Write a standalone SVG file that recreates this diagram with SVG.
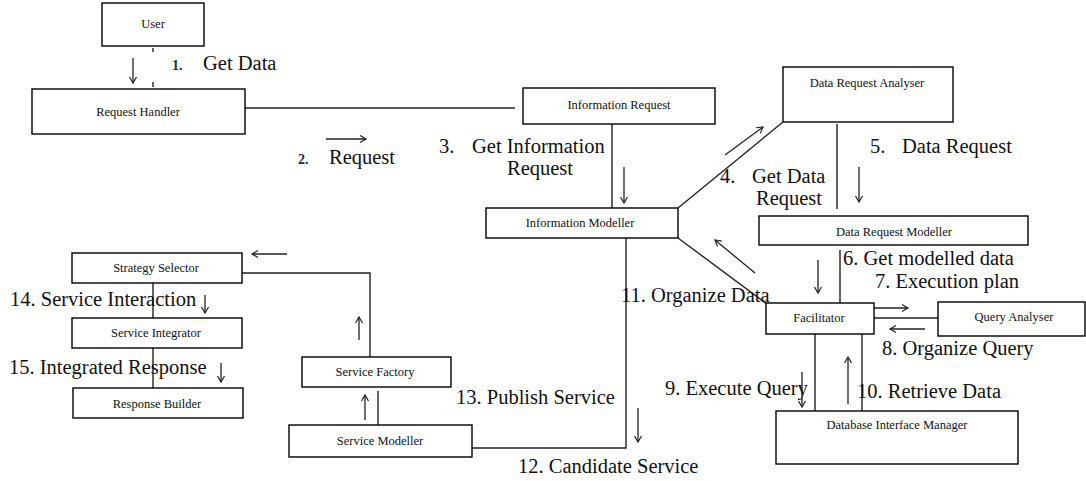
<svg xmlns="http://www.w3.org/2000/svg" width="1086" height="481" viewBox="0 0 1086 481">
<style>
.box{fill:#fff;stroke:#000;stroke-width:1.4}
.nt{font-family:"Liberation Serif","DejaVu Serif",serif;font-size:12.5px;fill:#111;text-anchor:middle}
.ln{fill:none;stroke:#222;stroke-width:1.4}
.ar{fill:none;stroke:#222;stroke-width:1.3;marker-end:url(#ah)}
.lb{font-family:"Liberation Serif","DejaVu Serif",serif;font-size:20.5px;fill:#111}
.sm{font-family:"Liberation Serif","DejaVu Serif",serif;font-size:14px;font-weight:bold;fill:#1a2a50}
</style>
<defs>
<marker id="ah" markerWidth="10" markerHeight="10" refX="7" refY="4" orient="auto" markerUnits="userSpaceOnUse">
<path d="M1,0.5 L7,4 L1,7.5" fill="none" stroke="#222" stroke-width="1.2"/>
</marker>
</defs>
<rect width="1086" height="481" fill="#fff"/>
<g id="connectors">
<line class="ln" x1="153" y1="48" x2="153" y2="52"/>
<line class="ln" x1="153" y1="82" x2="153" y2="87"/>
<line class="ln" x1="245" y1="108" x2="515" y2="108"/>
<line class="ln" x1="612" y1="124" x2="612" y2="208"/>
<line class="ln" x1="678" y1="208" x2="783" y2="122"/>
<line class="ln" x1="837" y1="124" x2="837" y2="209"/>
<line class="ln" x1="840" y1="250" x2="840" y2="303"/>
<line class="ln" x1="678" y1="238" x2="767" y2="304"/>
<line class="ln" x1="874" y1="318" x2="938" y2="318"/>
<line class="ln" x1="815" y1="334" x2="815" y2="411"/>
<line class="ln" x1="862" y1="334" x2="862" y2="411"/>
<polyline class="ln" points="626,238 626,448 472,448"/>
<line class="ln" x1="378" y1="425" x2="378" y2="391"/>
<polyline class="ln" points="370,357 370,273 242,273"/>
<line class="ln" x1="153" y1="283" x2="153" y2="318"/>
<line class="ln" x1="153" y1="348" x2="153" y2="388"/>
<line class="ar" x1="133" y1="58" x2="133" y2="83"/>
<line class="ar" x1="326" y1="139" x2="366" y2="139"/>
<line class="ar" x1="624" y1="167" x2="624" y2="203"/>
<line class="ar" x1="725" y1="155" x2="763" y2="127"/>
<line class="ar" x1="859" y1="167" x2="859" y2="202"/>
<line class="ar" x1="818" y1="260" x2="818" y2="293"/>
<line class="ar" x1="755" y1="273" x2="715" y2="240"/>
<line class="ar" x1="872" y1="308" x2="908" y2="308"/>
<line class="ar" x1="925" y1="329" x2="890" y2="329"/>
<line class="ar" x1="802" y1="372" x2="802" y2="407"/>
<line class="ar" x1="848" y1="404" x2="848" y2="357"/>
<line class="ar" x1="638" y1="408" x2="638" y2="442"/>
<line class="ar" x1="365" y1="420" x2="365" y2="395"/>
<line class="ar" x1="359" y1="340" x2="359" y2="317"/>
<line class="ar" x1="287" y1="254" x2="252" y2="254"/>
<line class="ar" x1="205" y1="295" x2="205" y2="313"/>
<line class="ar" x1="221" y1="363" x2="221" y2="382"/>
</g>
<g id="user"><rect class="box" x="102" y="3" width="102" height="43"/><text class="nt" x="153" y="28">User</text></g>
<g id="request-handler"><rect class="box" x="32" y="89" width="213" height="45"/><text class="nt" x="138" y="116">Request Handler</text></g>
<g id="information-request"><rect class="box" x="523" y="88" width="192" height="36"/><text class="nt" x="619" y="109">Information Request</text></g>
<g id="information-modeller"><rect class="box" x="486" y="208" width="192" height="30"/><text class="nt" x="580" y="227">Information Modeller</text></g>
<g id="data-request-analyser"><rect class="box" x="783" y="67" width="170" height="55"/><text class="nt" x="867" y="87">Data Request Analyser</text></g>
<g id="data-request-modeller"><rect class="box" x="759" y="216" width="269" height="29"/><text class="nt" x="894" y="236">Data Request Modeller</text></g>
<g id="facilitator"><rect class="box" x="766" y="303" width="108" height="31"/><text class="nt" x="819" y="322">Facilitator</text></g>
<g id="query-analyser"><rect class="box" x="938" y="302" width="147" height="34"/><text class="nt" x="1014" y="321">Query Analyser</text></g>
<g id="database-interface-manager"><rect class="box" x="776" y="411" width="242" height="53"/><text class="nt" x="897" y="429">Database Interface Manager</text></g>
<g id="service-modeller"><rect class="box" x="289" y="425" width="183" height="32"/><text class="nt" x="380" y="445">Service Modeller</text></g>
<g id="service-factory"><rect class="box" x="302" y="357" width="149" height="30"/><text class="nt" x="375" y="376">Service Factory</text></g>
<g id="strategy-selector"><rect class="box" x="72" y="253" width="170" height="30"/><text class="nt" x="156" y="272">Strategy Selector</text></g>
<g id="service-integrator"><rect class="box" x="72" y="318" width="170" height="30"/><text class="nt" x="156" y="337">Service Integrator</text></g>
<g id="response-builder"><rect class="box" x="73" y="388" width="170" height="30"/><text class="nt" x="157" y="408">Response Builder</text></g>
<g id="labels">
<text class="sm" x="172" y="70">1.</text>
<text class="lb" x="203" y="70">Get Data</text>
<text class="sm" x="298" y="164">2.</text>
<text class="lb" x="329" y="164">Request</text>
<text class="lb" x="439" y="153">3.</text>
<text class="lb" x="472" y="153">Get Information</text>
<text class="lb" x="507" y="175">Request</text>
<text class="lb" x="720" y="183">4.</text>
<text class="lb" x="752" y="183">Get Data</text>
<text class="lb" x="756" y="205">Request</text>
<text class="lb" x="870" y="153">5.</text>
<text class="lb" x="902" y="153">Data Request</text>
<text class="lb" x="843" y="265">6. Get modelled data</text>
<text class="lb" x="875" y="288">7. Execution plan</text>
<text class="lb" x="882" y="355">8. Organize Query</text>
<text class="lb" x="665" y="395">9. Execute Query</text>
<text class="lb" x="857" y="398">10. Retrieve Data</text>
<text class="lb" x="621" y="302">11. Organize Data</text>
<text class="lb" x="518" y="473">12. Candidate Service</text>
<text class="lb" x="456" y="404">13. Publish Service</text>
<text class="lb" x="10" y="306">14. Service Interaction</text>
<text class="lb" x="9" y="374">15. Integrated Response</text>
</g>
</svg>
